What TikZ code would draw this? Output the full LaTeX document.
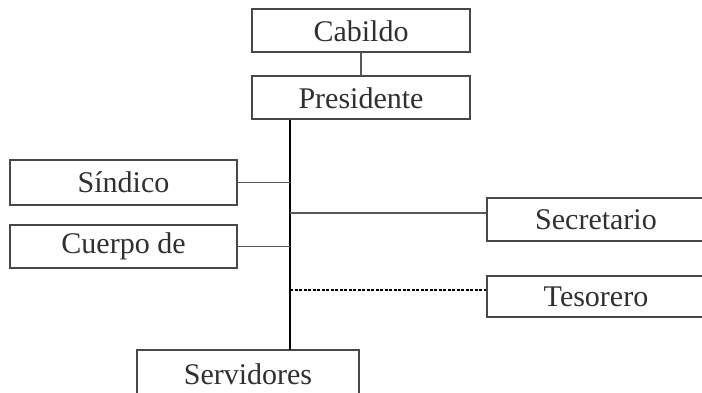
\documentclass[tikz,border=0pt]{standalone}
\usepackage{fontspec}
\setmainfont{Liberation Serif}
\definecolor{boxline}{HTML}{484848}
\definecolor{txt}{HTML}{303030}
\begin{document}
\begin{tikzpicture}[x=1pt,y=-1pt,
        unit/.style={draw=boxline, line width=2pt, fill=white, rectangle, minimum width=218pt, minimum height=43pt, inner sep=0pt, text=txt, font=\fontsize{30}{35}\selectfont},
        link/.style={draw=gray!70!black, line width=1.6pt},
        dashlink/.style={draw=black, line width=1.3pt, dash pattern=on 3pt off 1.5pt}]
        % Frame
        \useasboundingbox (0,0) rectangle (702,393);
        \clip (0,0) rectangle (702,393);

        % Boxes
        \node[unit] (cabildo) at (361,31) {Cabildo};
        \node[unit] (presidente) at (361,98) {Presidente};
        \node[unit, minimum width=227pt, minimum height=45pt] (sindico) at (123.5,182.5) {Síndico};
        \node[unit, minimum width=227pt] (cuerpo) at (123.5,246.5) {Cuerpo de};
        \node[unit] (secretario) at (596,219.5) {Secretario};
        \node[unit, minimum height=41pt] (tesorero) at (596,296.5) {Tesorero};
        \node[unit, minimum width=222pt, minimum height=48pt] (servidores) at (248,374) {Servidores};

        % Trunk
        \coordinate (trunktop) at (290,120);
        \coordinate (trunkbot) at (290,350);
        \draw[link] (cabildo) -- (presidente);
        \draw[black, line width=2pt] (trunktop) -- (trunkbot);

        % Branches
        \draw[link] (sindico.east) -- (sindico.east -| trunktop);
        \draw[link] (cuerpo.east) -- (cuerpo.east -| trunktop);
        \draw[link] (trunktop |- 0,213) -- (secretario.west |- 0,213);
        \draw[dashlink] (trunktop |- 0,290) -- (tesorero.west |- 0,290);
\end{tikzpicture}
\end{document}
